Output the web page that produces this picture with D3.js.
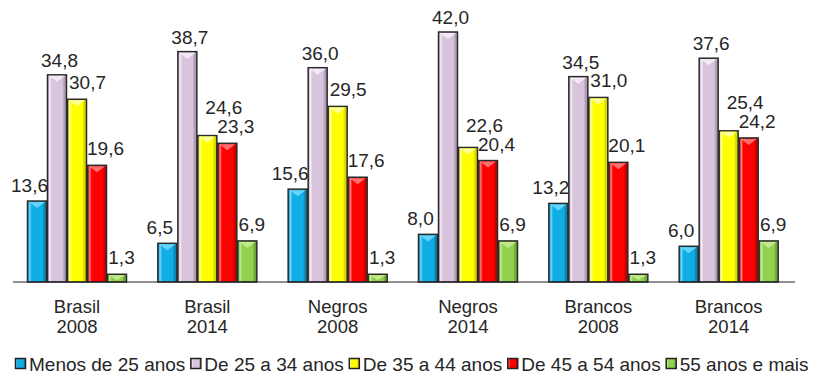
<!DOCTYPE html>
<html>
<head>
<meta charset="utf-8">
<script src="https://cdn.jsdelivr.net/npm/d3@7"></script>
<style>
  body { margin: 0; background: #fff; }
  text { font-family: "Liberation Sans", Arial, sans-serif; fill: #262626; }
</style>
</head>
<body>
<div class="chart"></div>
<script>
// grupos e anos (eixo x)
var groupNames = ["Brasil", "Brasil", "Negros", "Negros", "Brancos", "Brancos"];
var groupYears = ["2008", "2014", "2008", "2014", "2008", "2014"];

var seriesNames = ["Menos de 25 anos", "De 25 a 34 anos", "De 35 a 44 anos", "De 45 a 54 anos", "55 anos e mais"];

var menos25  = [13.6, 6.5, 15.6, 8.0, 13.2, 6.0];
var de25a34  = [34.8, 38.7, 36.0, 42.0, 34.5, 37.6];
var de35a44  = [30.7, 24.6, 29.5, 22.6, 31.0, 25.4];
var de45a54  = [19.6, 23.3, 17.6, 20.4, 20.1, 24.2];
var mais55   = [1.3, 6.9, 1.3, 6.9, 1.3, 6.9];

var seriesValues = [menos25, de25a34, de35a44, de45a54, mais55];

var colors  = ["#11aee6", "#d9c4dd", "#ffff00", "#ff0000", "#92d050"];
var lights  = ["#6fd8ff", "#f6eef8", "#ffffa8", "#ff7a7a", "#c6ec92"];
var darks   = ["#0a86b4", "#b09ab5", "#d6d600", "#c80000", "#6ea637"];
var labelDx = [-7, 3, 11, 9, 5];
var labelDy = [-9, -8, -10, -10, -10];

var width = 815, height = 376;
var baseY = 282;

var svg = d3.select(".chart").append("svg")
    .attr("width", width)
    .attr("height", height);

var defs = svg.append("defs");
colors.forEach(function (c, i) {
    var g = defs.append("linearGradient")
        .attr("id", "grad" + i)
        .attr("x1", "0%").attr("x2", "100%").attr("y1", "0%").attr("y2", "0%");
    g.append("stop").attr("offset", "0%").attr("stop-color", darks[i]);
    g.append("stop").attr("offset", "12%").attr("stop-color", lights[i]);
    g.append("stop").attr("offset", "22%").attr("stop-color", c);
    g.append("stop").attr("offset", "78%").attr("stop-color", c);
    g.append("stop").attr("offset", "88%").attr("stop-color", darks[i]);
    g.append("stop").attr("offset", "100%").attr("stop-color", darks[i]);
});

var x0 = d3.scaleBand()
    .domain(d3.range(groupNames.length))
    .range([13, 795]);

var x1 = d3.scaleBand()
    .domain(d3.range(seriesNames.length))
    .range([14, 114]);

var y = d3.scaleLinear()
    .domain([0, 42])
    .range([baseY, 32]);

// barras
var groups = svg.selectAll(".grp")
    .data(d3.range(groupNames.length))
    .enter()
    .append("g")
    .attr("class", "grp")
    .attr("transform", function (d) { return "translate(" + x0(d) + ",0)"; });

var bars = groups.selectAll(".bar")
    .data(function (gi) {
        return seriesValues.map(function (vals, si) { return { g: gi, s: si, v: vals[gi] }; });
    })
    .enter()
    .append("g")
    .attr("class", "bar");

var bw = x1.bandwidth() - 1;

bars.append("rect")
    .attr("x", function (d) { return x1(d.s) + 0.5; })
    .attr("y", function (d) { return y(d.v); })
    .attr("width", bw)
    .attr("height", function (d) { return baseY - y(d.v); })
    .attr("fill", function (d) { return "url(#grad" + d.s + ")"; })
    .style("stroke", "#2a2a2a")
    .style("stroke-width", "1.5");

// triangulo claro no topo (efeito bisel)
bars.append("path")
    .attr("d", function (d) {
        var x = x1(d.s) + 0.5, t = y(d.v) + 1;
        var h = Math.min(6, baseY - t - 2);
        return "M" + (x + 1.5) + "," + t + "L" + (x + bw - 1.5) + "," + t + "L" + (x + bw / 2) + "," + (t + h) + "Z";
    })
    .attr("fill", function (d) { return lights[d.s]; })
    .attr("opacity", 0.9);

// posicao dos rotulos; o de 35-44 sobe quando encosta no de 45-54
function labelPos(d) {
    var px = x1(d.s) + bw / 2 + labelDx[d.s];
    var py = y(d.v) + labelDy[d.s];
    if (d.s === 2) {
        var redY = y(de45a54[d.g]) + labelDy[3];
        if (py > redY - 19) {
            py = redY - 19;
            px += 6;
        }
    }
    return [px, py];
}

bars.append("text")
    .attr("x", function (d) { return labelPos(d)[0]; })
    .attr("y", function (d) { return labelPos(d)[1]; })
    .attr("text-anchor", "middle")
    .style("font-size", "19px")
    .text(function (d) { return d3.format(".1f")(d.v).replace(".", ","); });

// eixo
svg.append("line")
    .attr("x1", 13).attr("x2", 795)
    .attr("y1", baseY).attr("y2", baseY)
    .style("stroke", "#222")
    .style("stroke-width", "1");

var cat = svg.selectAll(".cat")
    .data(d3.range(groupNames.length))
    .enter()
    .append("text")
    .attr("class", "cat")
    .attr("text-anchor", "middle")
    .style("font-size", "18.5px");
cat.append("tspan")
    .attr("x", function (d) { return x0(d) + 64; })
    .attr("y", 313)
    .text(function (d) { return groupNames[d]; });
cat.append("tspan")
    .attr("x", function (d) { return x0(d) + 64; })
    .attr("y", 333)
    .text(function (d) { return groupYears[d]; });

// legenda
var lx = 15;
seriesNames.forEach(function (name, i) {
    var item = svg.append("g").attr("transform", "translate(" + lx + ",358)");
    item.append("rect")
        .attr("x", 0.5).attr("y", 0.5)
        .attr("width", 10).attr("height", 10)
        .attr("fill", "url(#grad" + i + ")")
        .style("stroke", "#222")
        .style("stroke-width", "1.5");
    var t = item.append("text")
        .attr("x", 14)
        .attr("y", 13)
        .style("font-size", "19px")
        .text(name);
    lx += 14 + t.node().getComputedTextLength() + 5;
});
</script>
</body>
</html>
